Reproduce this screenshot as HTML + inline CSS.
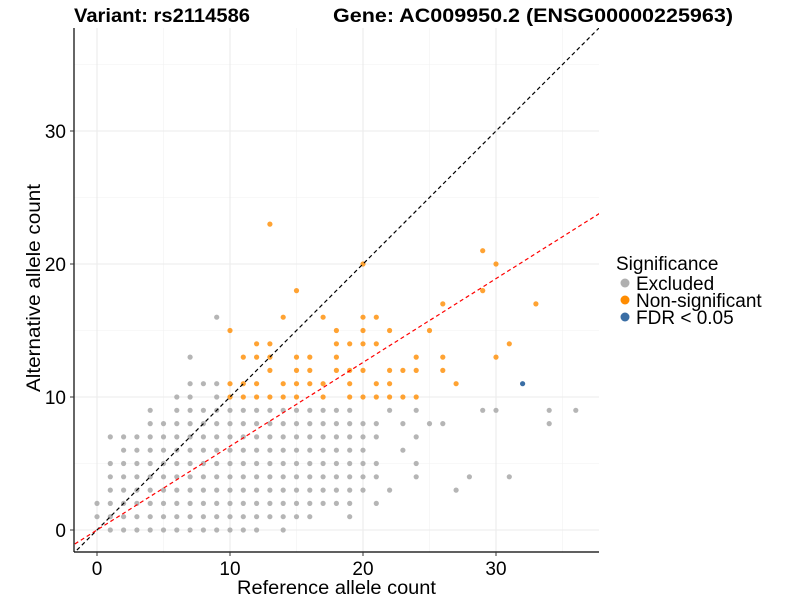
<!DOCTYPE html>
<html><head><meta charset="utf-8"><style>
body{margin:0;background:#fff;}
svg text{font-family:"Liberation Sans",Arial,sans-serif;}
</style></head><body>
<svg id="chart" width="800" height="600" xmlns="http://www.w3.org/2000/svg">
<text x="74" y="22" font-size="19" font-weight="bold" textLength="176" lengthAdjust="spacingAndGlyphs">Variant: rs2114586</text>
<text x="333" y="22" font-size="19" font-weight="bold" textLength="400" lengthAdjust="spacingAndGlyphs">Gene: AC009950.2 (ENSG00000225963)</text>
<defs><clipPath id="pc"><rect x="74" y="28" width="525" height="524"/></clipPath></defs>
<g id="grid"></g>
<g id="marks" clip-path="url(#pc)"></g>
<line x1="74" y1="28" x2="74" y2="552" stroke="#000" stroke-width="1.2"/>
<line x1="74" y1="552" x2="599" y2="552" stroke="#000" stroke-width="1.2"/>
<g id="ticks"></g>
<text x="237" y="594" font-size="19" textLength="199" lengthAdjust="spacingAndGlyphs">Reference allele count</text>
<text transform="translate(40,392) rotate(-90)" font-size="19" textLength="208" lengthAdjust="spacingAndGlyphs">Alternative allele count</text>
<g>
<text x="616" y="270" font-size="19">Significance</text>
<circle cx="625" cy="283" r="4.5" fill="#b0b0b0"/>
<text x="636" y="290" font-size="19">Excluded</text>
<circle cx="625" cy="300" r="4.5" fill="#ff8c00"/>
<text x="636" y="307" font-size="19">Non-significant</text>
<circle cx="625" cy="317" r="4.5" fill="#3a6ea5"/>
<text x="636" y="324" font-size="19">FDR &lt; 0.05</text>
</g>
</svg>
<script>
const xTicks=[0,10,20,30];
const yTicks=[0,10,20,30];
const minorTicks=[5,15,25,35];
// grey points: row y -> list of x
const greyRowsY=[0,1,2,3,4,5,6,7,8,9,10,11,13,16];
const greyRowsX=[
[1,2,3,4,5,6,7,8,9,10,11,12,14],
[0,1,2,3,4,5,6,7,8,9,10,11,12,13,14,15,16,19],
[0,1,2,3,4,5,6,7,8,9,10,11,12,13,14,15,16,17,18,19,21],
[1,2,3,4,5,6,7,8,9,10,11,12,13,14,15,16,17,18,19,20,22,27],
[1,2,3,4,5,6,7,8,9,10,11,12,13,14,15,16,17,18,19,20,21,24,28,31],
[1,2,3,4,5,6,7,8,9,10,11,12,13,14,15,16,17,18,19,20,21,24],
[2,3,4,5,6,7,8,9,10,11,12,13,14,15,16,17,18,19,20,23],
[1,2,3,4,5,6,7,8,9,10,11,12,13,14,15,16,17,18,19,20,21,24],
[4,5,6,7,8,9,10,11,12,13,14,15,16,17,18,19,20,21,23,25,26,34],
[4,6,7,8,9,10,11,12,13,14,15,16,17,18,19,22,24,29,30,34,36],
[6,7,9],
[7,8,9],
[7],
[9]];
const orangeX=[13,20,15,14,17,20,21,10,18,20,22,25,12,13,18,19,20,21,11,12,13,15,16,18,24,26,13,15,16,18,19,20,22,23,24,26,10,11,12,14,15,16,17,19,21,22,10,11,12,13,14,15,17,19,20,21,22,23,24,29,30,29,26,33,31,30,27];
const orangeY=[23,20,18,16,16,16,16,15,15,15,15,15,14,14,14,14,14,14,13,13,13,13,13,13,13,13,12,12,12,12,12,12,12,12,12,12,11,11,11,11,11,11,11,11,11,11,10,10,10,10,10,10,10,10,10,10,10,10,10,21,20,18,17,17,14,13,11];
const blueX=[32], blueY=[11];
const redSlope=0.63;

const X0=97,PX=13.3,Y0=530;
const sx=v=>X0+v*PX, sy=v=>Y0-v*PX;
const NS="http://www.w3.org/2000/svg";
function mk(t,a,p){const e=document.createElementNS(NS,t);for(const k in a)e.setAttribute(k,a[k]);p.appendChild(e);return e;}
const grid=document.getElementById('grid'),marks=document.getElementById('marks'),ticks=document.getElementById('ticks');
minorTicks.forEach(v=>{
 if(sx(v)<599){const l=mk('line',{x1:sx(v),x2:sx(v),y1:28,y2:552,stroke:'#f2f2f2','stroke-width':0.6},grid);
 
 }
 if(sy(v)>28){const l=mk('line',{x1:74,x2:599,y1:sy(v),y2:sy(v),stroke:'#f2f2f2','stroke-width':0.6},grid);
 
 }
});
xTicks.forEach(v=>{
 const l=mk('line',{x1:sx(v),x2:sx(v),y1:28,y2:552,stroke:'#ebebeb','stroke-width':1.1},grid);
 
 
 const t=mk('line',{x1:sx(v),x2:sx(v),y1:552,y2:556,stroke:'#333'},ticks);
 
 
 const tx=mk('text',{x:sx(v),y:575,'font-size':19,'text-anchor':'middle'},ticks);tx.textContent=v;
 
 
});
yTicks.forEach(v=>{
 const l=mk('line',{x1:74,x2:599,y1:sy(v),y2:sy(v),stroke:'#ebebeb','stroke-width':1.1},grid);
 
 
 const t=mk('line',{x1:70,x2:74,y1:sy(v),y2:sy(v),stroke:'#333'},ticks);
 
 
 const tx=mk('text',{x:66,y:sy(v)+7,'font-size':19,'text-anchor':'end'},ticks);tx.textContent=v;
 
 
});
greyRowsY.forEach((y,i)=>greyRowsX[i].forEach(x=>{
 const c=mk('circle',{cx:sx(x),cy:sy(y),r:2.6,fill:'#a8a8a8','fill-opacity':0.85},marks);
 
 
}));
orangeX.forEach((x,i)=>{
 const c=mk('circle',{cx:sx(x),cy:sy(orangeY[i]),r:2.6,fill:'#ff8c00','fill-opacity':0.8},marks);
 
 
});
blueX.forEach((x,i)=>{
 const c=mk('circle',{cx:sx(x),cy:sy(blueY[i]),r:2.6,fill:'#3a6ea5'},marks);
 
 
});
const idl=mk('line',{x1:sx(-3),y1:sy(-3),x2:sx(40),y2:sy(40),stroke:'#000','stroke-width':1.2,'stroke-dasharray':'4 3'},marks);


const rl=mk('line',{x1:sx(-3),y1:sy(-3*redSlope),x2:sx(40),y2:sy(40*redSlope),stroke:'#ff0000','stroke-width':1.2,'stroke-dasharray':'4 3'},marks);


</script>
</body></html>
